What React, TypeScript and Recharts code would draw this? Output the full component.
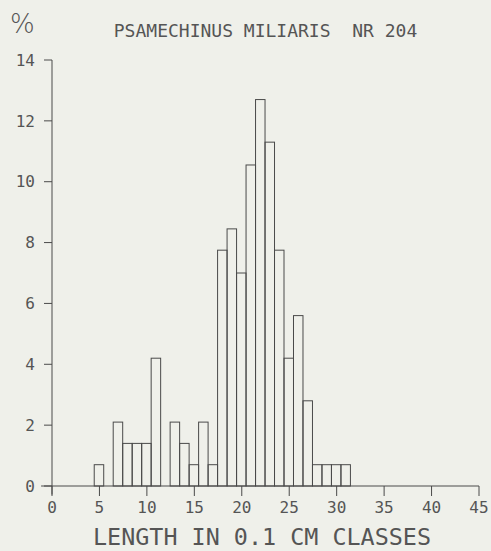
import React from 'react';
import { BarChart, Bar, XAxis, YAxis, ReferenceLine } from 'recharts';

// Length classes (0.1 cm) and percentage of individuals in each class
const lengthClasses = [5, 7, 8, 9, 10, 11, 13, 14, 15, 16, 17, 18, 19, 20, 21, 22, 23, 24, 25, 26, 27, 28, 29, 30, 31];
const percentages = [0.7, 2.1, 1.4, 1.4, 1.4, 4.2, 2.1, 1.4, 0.7, 2.1, 0.7, 7.75, 8.45, 7.0, 10.55, 12.7, 11.3, 7.75, 4.2, 5.6, 2.8, 0.7, 0.7, 0.7, 0.7];
const xTicks = [0, 5, 10, 15, 20, 25, 30, 35, 40, 45];
const yTicks = [0, 2, 4, 6, 8, 10, 12, 14];

const titleText = 'PSAMECHINUS MILIARIS\u00a0\u00a0NR 204';
const xLabel = 'LENGTH IN 0.1 CM CLASSES';
const yUnit = '%';

const data = lengthClasses.map((c, i) => ({ cls: c, pct: percentages[i] }));

const W = 491;
const H = 551;
const margin = { top: 60, right: 12, left: 0, bottom: 0 };
const Y_W = 52;
const X_H = 65;
const plotW = W - margin.left - margin.right - Y_W;
const barSize = plotW / 45;

const BG = '#eff0ea';
const INK = '#4a4a4a';
const TXT = '#555555';
const MONO = '"DejaVu Sans Mono", "Liberation Mono", monospace';

const HistBar = (p: any) => {
  const cx = p.x + p.width / 2;
  if (!p.height) return null;
  return (
    <rect
      x={cx - barSize / 2}
      y={p.y}
      width={barSize}
      height={p.height}
      fill="none"
      stroke={INK}
      strokeWidth={1}
    />
  );
};

export default function App() {
  return (
    <div style={{ position: 'absolute', left: 0, top: 0, width: W, height: H, background: BG, overflow: 'hidden' }}>
      <BarChart width={W} height={H} data={data} margin={margin} barCategoryGap={0} barGap={0}>
        <XAxis
          dataKey="cls"
          type="number"
          domain={[0, 45]}
          ticks={xTicks}
          allowDecimals={false}
          height={X_H}
          tickSize={10}
          tickMargin={6}
          stroke={INK}
          axisLine={{ stroke: INK, strokeWidth: 1 }}
          tickLine={{ stroke: INK, strokeWidth: 1 }}
          tick={{ fill: TXT, fontSize: 16, fontFamily: MONO }}
          interval={0}
        />
        <YAxis
          type="number"
          domain={[0, 14]}
          ticks={yTicks}
          width={Y_W}
          tickSize={8}
          tickMargin={9}
          stroke={INK}
          axisLine={{ stroke: INK, strokeWidth: 1 }}
          tickLine={{ stroke: INK, strokeWidth: 1 }}
          tick={{ fill: TXT, fontSize: 16, fontFamily: MONO }}
          interval={0}
        />
        <ReferenceLine
          segment={[{ x: -1.15, y: 0 }, { x: 0, y: 0 }]}
          stroke={INK}
          strokeWidth={1}
          ifOverflow="visible"
        />
        <ReferenceLine
          segment={[{ x: 0, y: 0 }, { x: 0, y: -0.28 }]}
          stroke={INK}
          strokeWidth={1}
          ifOverflow="visible"
        />
        <Bar
          dataKey="pct"
          barSize={barSize}
          fill="none"
          stroke={INK}
          strokeWidth={1}
          shape={HistBar}
          isAnimationActive={false}
        />
      </BarChart>
      <svg
        width={W}
        height={H}
        style={{ position: 'absolute', left: 0, top: 0, pointerEvents: 'none' }}
      >
        <text x={10} y={33} fill={TXT} fontSize={26} fontFamily='"DejaVu Sans", sans-serif' fontWeight={200}>
          {yUnit}
        </text>
        <text x={265.5} y={36.5} textAnchor="middle" fill={TXT} fontSize={18} fontFamily={MONO}>
          {titleText}
        </text>
        <text x={262} y={545} textAnchor="middle" fill={TXT} fontSize={23.4} fontFamily={MONO}>
          {xLabel}
        </text>
      </svg>
    </div>
  );
}
